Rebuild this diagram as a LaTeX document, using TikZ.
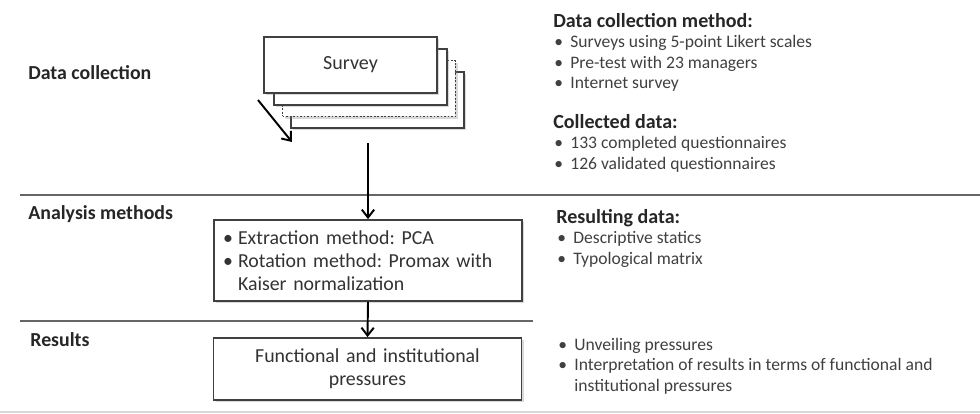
\documentclass[tikz,border=0pt]{standalone}
\usepackage{fontspec}
\setmainfont{Carlito}
\usetikzlibrary{arrows.meta,positioning,shadows}

\newcommand{\itm}[1]{\makebox[0.34cm][l]{\hspace{0.02cm}\textbullet}#1}
\newcommand{\bitm}[1]{\makebox[0.3cm][l]{\textbullet}#1}
\newcommand{\cont}[1]{\hspace{0.34cm}#1}
\newcommand{\headfont}{\bfseries\fontsize{11.4}{13}\selectfont\color{black!85}}
\newcommand{\stagefont}{\bfseries\fontsize{11.3}{13}\selectfont\color{black!85}}

\begin{document}
\frenchspacing
\begin{tikzpicture}[x=0.02cm,y=-0.02cm,>={Straight Barb[length=4.5pt,width=7pt]},
    box/.style={draw=black!75,fill=white,line width=1pt,
                drop shadow={shadow xshift=1.2pt,shadow yshift=-1.2pt,opacity=0.3}},
    sheet/.style={box,minimum width=3.46cm,minimum height=1.12cm,
                  font=\fontsize{11.4}{13}\selectfont,text=black!80},
    stage/.style={font=\stagefont,anchor=base west,inner sep=0pt},
    info/.style={font=\fontsize{10}{11.7}\selectfont,text=black!75,
                 anchor=base west,inner sep=0pt},
    step box/.style={box,text width=5.8cm,inner xsep=0.18cm,align=left,
                     font=\fontsize{11.3}{13.1}\selectfont,text=black!80},
    sep/.style={draw=black!60,line width=1.2pt}]

  \useasboundingbox (0,0) rectangle (980,413);

  % separators
  \draw[sep] (20,195) -- (980,195);
  \draw[sep] (20,321) -- (533,321);
  \draw[draw=black!15,line width=1pt] (0,412) -- (980,412);

  % stage labels
  \node[stage] (lcollect) at (28,79) {Data collection};
  \node[stage] (lanalysis) at (28,219) {Analysis methods};
  \node[stage] (lresults) at (30,346) {Results};

  % stack of survey sheets
  \node[sheet] (s3) at (377.5,100) {};
  \node[sheet,densely dotted] (s2) at (369,88.5) {};
  \node[sheet] (s1) at (360.5,77) {};
  \node[sheet] (survey) at (350.5,65) {Survey};

  \node[step box,minimum height=1.62cm] (analysis) at (368,260.5)
    {\bitm{Extraction method: PCA}\\
     \bitm{Rotation method: Promax with}\\
     \hspace{0.3cm}Kaiser normalization};
  \node[step box,minimum height=1.24cm,align=center] (results) at (367.5,369)
    {Functional and institutional\\pressures};

  \coordinate (stackout) at (368,143);
  \coordinate (dsa) at (258,100);
  \coordinate (dsb) at (292,142);

  \path[line width=1.1pt] (dsa) edge[->] (dsb)
        (stackout) edge[->] (analysis.north)
        (analysis.south) edge[->] (results.north);

  % right column
  \node[info] (dcmethod) at (553,27) {\begin{tabular}[t]{@{}l@{}}
      {\headfont Data collection method:}\\
      \itm{Surveys using 5-point Likert scales}\\
      \itm{Pre-test with 23 managers}\\
      \itm{Internet survey}
    \end{tabular}};
  \node[info] (collected) at (553,128) {\begin{tabular}[t]{@{}l@{}}
      {\headfont Collected data:}\\
      \itm{133 completed questionnaires}\\
      \itm{126 validated questionnaires}
    \end{tabular}};
  \node[info] (resulting) at (556,223) {\begin{tabular}[t]{@{}l@{}}
      {\headfont Resulting data:}\\
      \itm{Descriptive statics}\\
      \itm{Typological matrix}
    \end{tabular}};
  \node[info] (unveil) at (557,350) {\begin{tabular}[t]{@{}l@{}}
      \itm{Unveiling pressures}\\
      \itm{Interpretation of results in terms of functional and}\\
      \cont{institutional pressures}
    \end{tabular}};

\end{tikzpicture}
\end{document}
